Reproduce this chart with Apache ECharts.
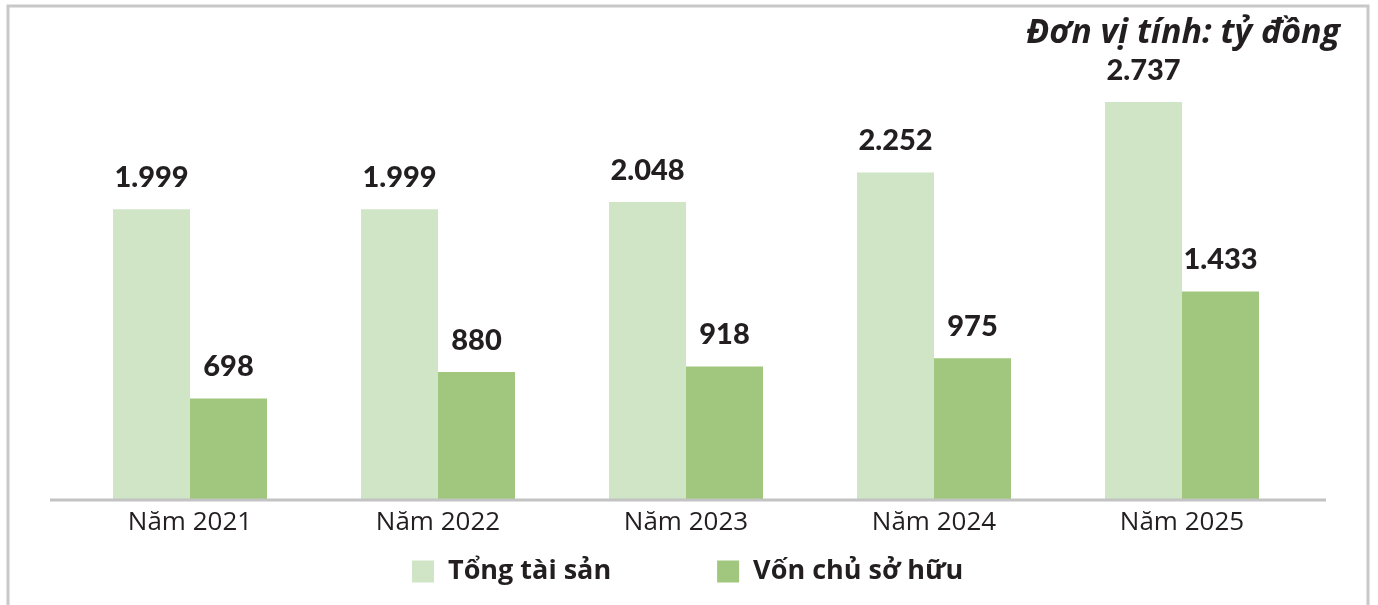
<!DOCTYPE html>
<html>
<head>
<meta charset="utf-8">
<style>
  html, body { margin: 0; padding: 0; background: #fff; }
  #chart { width: 1378px; height: 605px; }
</style>
<script src="https://cdn.jsdelivr.net/npm/echarts@6/dist/echarts.min.js"></script>
</head>
<body>
<div id="chart"></div>
<script>
// dữ liệu
const years = ["Năm 2021", "Năm 2022", "Năm 2023", "Năm 2024", "Năm 2025"];
const tongTaiSan = [1999, 1999, 2048, 2252, 2737];
const vonChuSoHuu = [698, 880, 918, 975, 1433];

// định dạng số kiểu Việt Nam: 1.999
function fmt(v) {
  return v.toLocaleString("de-DE");
}

const myChart = echarts.init(document.querySelector("#chart"));

const labelStyle = {
  show: true,
  position: "top",
  distance: 17,
  fontFamily: "Lato",
  fontWeight: 900,
  fontSize: 29,
  color: "#231f20",
  formatter: (p) => fmt(p.value),
};

const option = {
  animation: false,
  graphic: [
    {
      type: "rect",
      shape: { x: 8, y: 6, width: 1360, height: 640 },
      style: { fill: "none", stroke: "#c8c8c8", lineWidth: 3 },
      z: 0,
    },
    {
      type: "line",
      shape: { x1: 50, y1: 500, x2: 1326, y2: 500 },
      style: { stroke: "#c3c3c3", lineWidth: 3 },
      z: 10,
    },
  ],
  title: {
    text: "Đơn vị tính: tỷ đồng",
    right: 33,
    top: 11,
    textStyle: {
      fontFamily: "Open Sans",
      fontStyle: "italic",
      fontWeight: "bold",
      fontSize: 34,
      color: "#231f20",
    },
  },
  legend: {
    bottom: 15,
    left: 407,
    itemWidth: 22,
    itemHeight: 22,
    itemGap: 106,
    icon: "rect",
    textStyle: {
      fontFamily: "Open Sans",
      fontWeight: "bold",
      fontSize: 27,
      color: "#231f20",
      padding: [0, 0, 0, 9],
    },
    data: ["Tổng tài sản", "Vốn chủ sở hữu"],
  },
  grid: {
    left: 66,
    right: 72,
    top: 60,
    bottom: 105,
  },
  xAxis: {
    type: "category",
    data: years,
    axisLine: { show: false },
    axisTick: { show: false },
    axisLabel: {
      margin: 10,
      fontFamily: "Open Sans",
      fontSize: 26,
      color: "#231f20",
    },
  },
  yAxis: {
    type: "value",
    min: 0,
    max: 3025,
    show: false,
    splitLine: { show: false },
  },
  series: [
    {
      name: "Tổng tài sản",
      type: "bar",
      data: tongTaiSan,
      barWidth: 77,
      barGap: "0%",
      itemStyle: { color: "#d0e4c6" },
      label: labelStyle,
    },
    {
      name: "Vốn chủ sở hữu",
      type: "bar",
      data: vonChuSoHuu,
      barWidth: 77,
      itemStyle: { color: "#a1c77e" },
      label: labelStyle,
    },
  ],
};

myChart.setOption(option);
</script>
</body>
</html>
